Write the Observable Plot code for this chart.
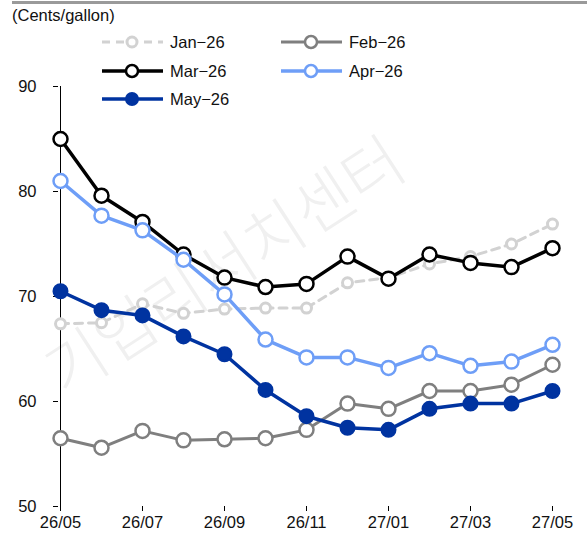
<!DOCTYPE html>
<html>
<head>
<meta charset="utf-8">
<script src="https://cdn.jsdelivr.net/npm/d3@7"></script>
<script src="https://cdn.jsdelivr.net/npm/@observablehq/plot@0.6"></script>
<style>
  html, body { margin: 0; padding: 0; background: #fff; }
  #wrap { position: relative; width: 587px; height: 554px; overflow: hidden; font-family: "Liberation Sans", Arial, sans-serif; }
  #rule { position: absolute; left: 12px; top: 1px; width: 575px; height: 3px; background: #9a9a9a; }
  #unit { position: absolute; left: 12px; top: 6px; font-size: 16.5px; color: #111; }
  #wm { position: absolute; left: 222px; top: 262px; font-family: "Noto Sans CJK KR", sans-serif; font-size: 64px; font-weight: 300; color: #f0f0f0; transform: translate(-50%, -50%) rotate(-33deg); white-space: nowrap; z-index: 0; }
  #chart { position: absolute; left: 0; top: 0; z-index: 1; }
  #legend { position: absolute; left: 0; top: 0; z-index: 2; }
</style>
</head>
<body>
<div id="wrap">
  <div id="wm">기업리서치센터</div>
  <div id="chart"></div>
  <div id="rule"></div>
  <div id="unit">(Cents/gallon)</div>
  <div id="legend"></div>
</div>
<script>
const months = ["26/05","26/06","26/07","26/08","26/09","26/10","26/11","26/12","27/01","27/02","27/03","27/04","27/05"];
const xTicks = ["26/05","26/07","26/09","26/11","27/01","27/03","27/05"];
const yTicks = [50, 60, 70, 80, 90];
const seriesNames = ["Jan−26","Feb−26","Mar−26","Apr−26","May−26"];
const jan26 = [67.4, 67.5, 69.3, 68.4, 68.8, 68.9, 68.9, 71.3, 71.8, 73.1, 73.8, 75.0, 76.9];
const feb26 = [56.5, 55.6, 57.2, 56.3, 56.4, 56.5, 57.3, 59.8, 59.3, 61.0, 61.0, 61.6, 63.5];
const mar26 = [85.0, 79.6, 77.1, 74.0, 71.8, 70.9, 71.2, 73.8, 71.7, 74.0, 73.2, 72.8, 74.6];
const apr26 = [81.0, 77.7, 76.3, 73.5, 70.2, 65.9, 64.2, 64.2, 63.2, 64.6, 63.4, 63.8, 65.4];
const may26 = [70.5, 68.7, 68.2, 66.2, 64.5, 61.1, 58.6, 57.5, 57.3, 59.3, 59.8, 59.8, 61.0];

const FONT = "'Liberation Sans', Arial, sans-serif";
const FS = 16.5;

const styles = {
  "Jan−26": {color: "#d2d2d2", width: 3, dash: "8,6", r: 5, fill: "#fff", sw: 3},
  "Feb−26": {color: "#7f7f7f", width: 3, dash: null, r: 7, fill: "#fff", sw: 2.5},
  "Mar−26": {color: "#000000", width: 3.5, dash: null, r: 7, fill: "#fff", sw: 2.5},
  "Apr−26": {color: "#6e9ef7", width: 3.5, dash: null, r: 7, fill: "#fff", sw: 2.5},
  "May−26": {color: "#0033a0", width: 3.5, dash: null, r: 7, fill: "#0033a0", sw: 2}
};
const valuesBy = {"Jan−26": jan26, "Feb−26": feb26, "Mar−26": mar26, "Apr−26": apr26, "May−26": may26};

const marks = [
  Plot.ruleY([50], {x1: months[0], x2: months[months.length - 1], stroke: "#000", strokeWidth: 1}),
  Plot.ruleX([months[0]], {y1: 50, y2: 90, stroke: "#000", strokeWidth: 1}),
  Plot.axisX({ticks: xTicks, tickSize: 5, tickPadding: 5, fontSize: FS, label: null, stroke: "#000", color: "#111"}),
  Plot.axisY({ticks: yTicks, tickSize: 5, tickPadding: 17, fontSize: FS, label: null, stroke: "#000", color: "#111"})
];
for (const name of seriesNames) {
  const s = styles[name];
  const data = months.map((m, i) => ({month: m, value: valuesBy[name][i]}));
  marks.push(Plot.line(data, {x: "month", y: "value", stroke: s.color, strokeWidth: s.width, strokeDasharray: s.dash, curve: "linear"}));
  marks.push(Plot.dot(data, {x: "month", y: "value", r: s.r, stroke: s.color, strokeWidth: s.sw, fill: s.fill}));
}

const chart = Plot.plot({
  width: 587,
  height: 554,
  marginTop: 86,
  marginBottom: 48,
  marginLeft: 58,
  marginRight: 34,
  style: {fontFamily: FONT, background: "transparent"},
  x: {type: "point", domain: months, padding: 0},
  y: {domain: [50, 90]},
  marks
});
document.getElementById("chart").appendChild(chart);

// legend
const leg = d3.select("#legend").append("svg").attr("width", 587).attr("height", 120);
const legPos = [
  {name: "Jan−26", x: 102, y: 42},
  {name: "Feb−26", x: 281, y: 42},
  {name: "Mar−26", x: 102, y: 71},
  {name: "Apr−26", x: 281, y: 71},
  {name: "May−26", x: 102, y: 99}
];
for (const p of legPos) {
  const s = styles[p.name];
  leg.append("line").attr("x1", p.x).attr("x2", p.x + 61).attr("y1", p.y).attr("y2", p.y)
    .attr("stroke", s.color).attr("stroke-width", s.width).attr("stroke-dasharray", s.dash);
  leg.append("circle").attr("cx", p.x + 30).attr("cy", p.y).attr("r", s.r === 5 ? 5 : 6)
    .attr("stroke", s.color).attr("stroke-width", s.sw).attr("fill", s.fill);
  leg.append("text").attr("x", p.x + 68).attr("y", p.y).attr("dy", "0.35em")
    .attr("font-size", FS).attr("fill", "#111")
    .attr("font-family", FONT).text(p.name);
}
</script>
</body>
</html>
